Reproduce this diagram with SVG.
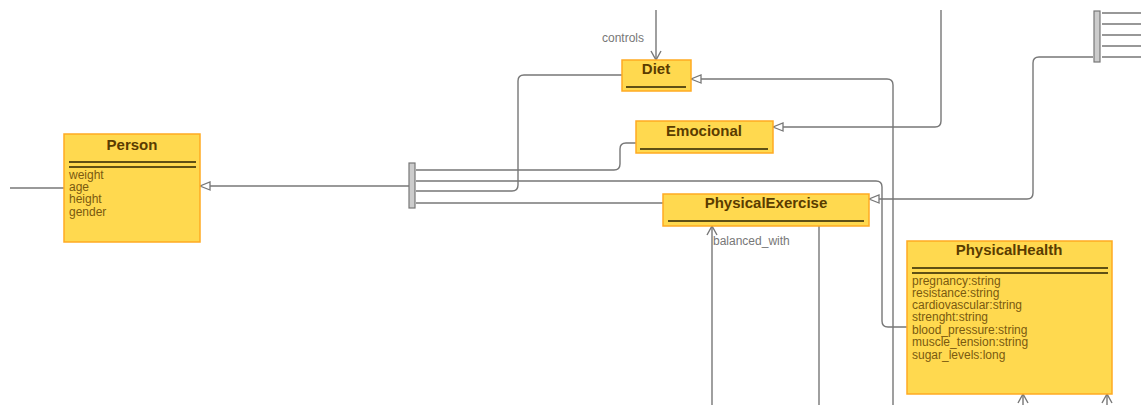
<svg xmlns="http://www.w3.org/2000/svg" width="1141" height="405" viewBox="0 0 1141 405">
<style>
.box{fill:#FFD94F;stroke:#FFAA22;stroke-width:1.5}
.sep{stroke:#2b2200;stroke-width:1.6}
.title{font-family:"Liberation Sans",Arial,sans-serif;font-weight:bold;font-size:15px;fill:#5a3c00;text-anchor:middle}
.attr{font-family:"Liberation Sans",Arial,sans-serif;font-size:12px;fill:#7a5a10}
.lbl{font-family:"Liberation Sans",Arial,sans-serif;font-size:12px;fill:#777}
.c{fill:none;stroke:#777;stroke-width:1.4}
.bar{fill:#cccccc;stroke:#777;stroke-width:1.2}
</style>
<defs>
<marker id="tri" viewBox="0 0 12 10" refX="11" refY="5" markerWidth="12" markerHeight="10" markerUnits="userSpaceOnUse" orient="auto">
<path d="M1 1 L11 5 L1 9 Z" fill="#fff" stroke="#777" stroke-width="1.3"/>
</marker>
<marker id="open" viewBox="0 0 12 12" refX="11" refY="6" markerWidth="12" markerHeight="12" markerUnits="userSpaceOnUse" orient="auto">
<path d="M2 1 L11 6 L2 11" fill="none" stroke="#777" stroke-width="1.4"/>
</marker>
</defs>
<g id="connectors">
<path class="c" d="M10 188 H64"/>
<path class="c" d="M409 186 H200" marker-end="url(#tri)"/>
<path class="c" d="M416 170 H614 Q620 170 620 164 V149 Q620 143 626 143 H636"/>
<path class="c" d="M416 181 H876 Q882 181 882 187 V321 Q882 327 888 327 H907"/>
<path class="c" d="M416 191 H512 Q518 191 518 185 V81 Q518 75 524 75 H622"/>
<path class="c" d="M416 203 H663"/>
<path class="c" d="M656 10 V60" marker-end="url(#open)"/>
<path class="c" d="M893 405 V85 Q893 79 887 79 H691" marker-end="url(#tri)"/>
<path class="c" d="M941 10 V121 Q941 127 935 127 H773" marker-end="url(#tri)"/>
<path class="c" d="M1093 57 H1039 Q1033 57 1033 63 V193 Q1033 199 1027 199 H869" marker-end="url(#tri)"/>
<path class="c" d="M1102 13 H1141 M1102 24 H1141 M1102 35 H1141 M1102 46 H1141 M1102 57 H1141"/>
<path class="c" d="M712 405 V226" marker-end="url(#open)"/>
<path class="c" d="M819 226 V405"/>
<path class="c" d="M1023 405 V394" marker-end="url(#open)"/>
<path class="c" d="M1107 405 V394" marker-end="url(#open)"/>
<text class="lbl" x="623" y="42" text-anchor="middle">controls</text>
<text class="lbl" x="713" y="245">balanced_with</text>
</g>
<g id="bar-left"><rect class="bar" x="409" y="163" width="6" height="45"/></g>
<g id="bar-right"><rect class="bar" x="1094" y="11" width="6" height="51"/></g>
<g id="person">
<rect class="box" x="64" y="134" width="136" height="108"/>
<text class="title" x="132" y="150">Person</text>
<line class="sep" x1="69" y1="162" x2="196" y2="162"/>
<line class="sep" x1="69" y1="167" x2="196" y2="167"/>
<text class="attr" x="69" y="179">weight</text>
<text class="attr" x="69" y="191">age</text>
<text class="attr" x="69" y="203">height</text>
<text class="attr" x="69" y="216">gender</text>
</g>
<g id="diet">
<rect class="box" x="622" y="60" width="69" height="31"/>
<text class="title" x="656" y="74">Diet</text>
<line class="sep" x1="626" y1="87" x2="686" y2="87"/>
</g>
<g id="emocional">
<rect class="box" x="636" y="121" width="137" height="32"/>
<text class="title" x="704" y="136">Emocional</text>
<line class="sep" x1="640" y1="149" x2="768" y2="149"/>
</g>
<g id="physicalexercise">
<rect class="box" x="663" y="194" width="206" height="32"/>
<text class="title" x="766" y="208">PhysicalExercise</text>
<line class="sep" x1="668" y1="221" x2="864" y2="221"/>
</g>
<g id="physicalhealth">
<rect class="box" x="907" y="241" width="205" height="153"/>
<text class="title" x="1009" y="255">PhysicalHealth</text>
<line class="sep" x1="912" y1="268" x2="1108" y2="268"/>
<line class="sep" x1="912" y1="273" x2="1108" y2="273"/>
<text class="attr" x="912" y="285">pregnancy:string</text>
<text class="attr" x="912" y="297">resistance:string</text>
<text class="attr" x="912" y="309">cardiovascular:string</text>
<text class="attr" x="912" y="321">strenght:string</text>
<text class="attr" x="912" y="334">blood_pressure:string</text>
<text class="attr" x="912" y="346">muscle_tension:string</text>
<text class="attr" x="912" y="359">sugar_levels:long</text>
</g>
</svg>
